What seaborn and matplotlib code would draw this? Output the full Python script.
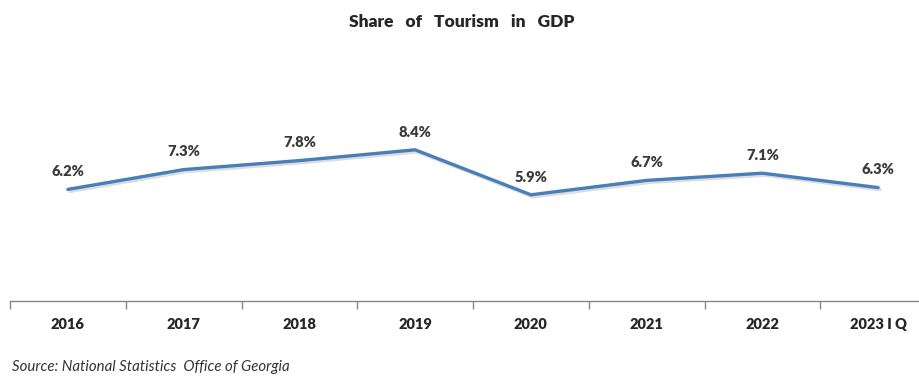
import matplotlib
matplotlib.use("Agg")
import matplotlib.pyplot as plt
import matplotlib.patheffects as pe
import pandas as pd
import seaborn as sns

years = ["2016", "2017", "2018", "2019", "2020", "2021", "2022", "2023 I Q"]
share = [6.2, 7.3, 7.8, 8.4, 5.9, 6.7, 7.1, 6.3]
labels = ["6.2%", "7.3%", "7.8%", "8.4%", "5.9%", "6.7%", "7.1%", "6.3%"]

df = pd.DataFrame({"year": years, "share": share})

sns.set_theme(style="white")
plt.rcParams["font.family"] = ["Lato", "DejaVu Sans"]

fig = plt.figure(figsize=(9.2, 3.83), dpi=100)
ax = fig.add_axes([10 / 920, 1 - 301 / 383, 926 / 920, 252 / 383])

sns.lineplot(data=df, x="year", y="share", ax=ax, color="#4A7EBB", linewidth=2.4,
             sort=False,
             path_effects=[pe.SimpleLineShadow(offset=(1.5, -1.5), shadow_color="#aaaaaa", alpha=0.4),
                           pe.Normal()])

for i, (v, t) in enumerate(zip(share, labels)):
    ax.annotate(t, (i, v), xytext=(0, 8), textcoords="offset points",
                ha="center", va="bottom", fontsize=10.5, fontweight="heavy", color="#3a3a3a")

ax.set_xlim(-0.5, len(years) - 0.5)
ax.set_ylim(0, 14)
ax.set_xlabel("")
ax.set_ylabel("")
ax.set_yticks([])
ax.set_xticks(range(len(years)))
ax.set_xticklabels(years, fontsize=10.5, fontweight="heavy", color="#262626")
ax.set_xticks([i - 0.5 for i in range(len(years) + 1)], minor=True)
ax.tick_params(axis="x", which="major", length=0, pad=12)
ax.tick_params(axis="x", which="minor", length=6, width=1, color="#868686", direction="out", bottom=True)

for s in ["top", "right", "left"]:
    ax.spines[s].set_visible(False)
ax.spines["bottom"].set_color("#868686")
ax.spines["bottom"].set_linewidth(1)

fig.text(0.502, 1 - 22 / 383, "Share   of   Tourism   in   GDP", ha="center", va="center",
         fontsize=12.5, fontweight="heavy", color="#262626")
fig.text(12 / 920, 1 - 367 / 383, "Source: National Statistics  Office of Georgia",
         ha="left", va="center", fontsize=10.8, style="italic", color="#333333")

fig.savefig("out.png", dpi=100)
